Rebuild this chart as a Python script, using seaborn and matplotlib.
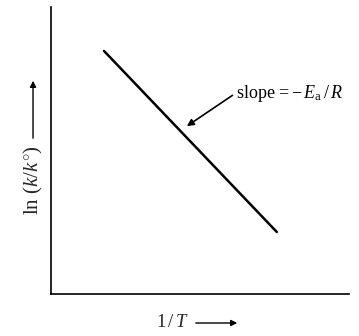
import matplotlib
matplotlib.use("Agg")
import matplotlib.pyplot as plt
import seaborn as sns
import pandas as pd

# Data (axis-fraction units)
inv_T = [0.178, 0.758]
ln_k = [0.847, 0.216]
annotation_text = r"slope$\,=-\,E_{\mathrm{a}}\,/\,R$"
x_label = r"$1\,/\,T$"
y_label = r"ln $(k/k^{\circ})$"

sns.set_theme(style="white")
plt.rcParams['font.family'] = ['Liberation Serif', 'DejaVu Serif']
plt.rcParams['mathtext.fontset'] = 'custom'
plt.rcParams['mathtext.rm'] = 'Liberation Serif'
plt.rcParams['mathtext.it'] = 'Liberation Serif:italic'

fig = plt.figure(figsize=(3.59, 3.36), dpi=100)
ax = fig.add_axes([0.142, 0.125, 0.830, 0.854])
df = pd.DataFrame({"x": inv_T, "y": ln_k})
sns.lineplot(data=df, x="x", y="y", ax=ax, color="black", lw=1.8)
ax.set_xlim(0, 1)
ax.set_ylim(0, 1)
ax.set_xticks([])
ax.set_yticks([])
ax.set_xlabel("")
ax.set_ylabel("")
for s in ["top", "right"]:
    ax.spines[s].set_visible(False)
for s in ["left", "bottom"]:
    ax.spines[s].set_color("black")
    ax.spines[s].set_linewidth(1.2)

ax.annotate(annotation_text, xy=(0.456, 0.585), xytext=(0.62, 0.70),
            textcoords="axes fraction", xycoords="axes fraction",
            fontsize=13, color="black", ha="left", va="center",
            arrowprops=dict(arrowstyle="-|>", color="black", lw=1.2,
                            mutation_scale=10, shrinkA=0, shrinkB=0,
                            relpos=(0, 0.5)))

# x label with arrow
fig.text(0.435, 0.039, x_label, fontsize=13.5, ha="left", va="center")
fig.add_artist(matplotlib.patches.FancyArrowPatch(
    (193/359, 1-323/336), (240/359, 1-323/336), transform=fig.transFigure,
    arrowstyle="-|>", mutation_scale=9, color="black", lw=1.0))
# y label with arrow
fig.text(0.092, 1-180/336, y_label, fontsize=15, rotation=90, ha="center", va="center")
fig.add_artist(matplotlib.patches.FancyArrowPatch(
    (0.092, 1-141/336), (0.092, 1-78/336), transform=fig.transFigure,
    arrowstyle="-|>", mutation_scale=9, color="black", lw=1.0))

fig.savefig("out.png", dpi=100)
